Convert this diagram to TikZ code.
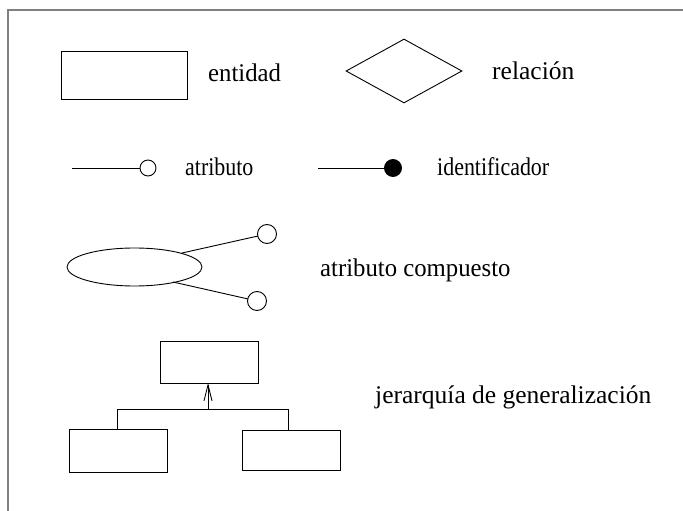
\documentclass[tikz,border=0pt]{standalone}
\usepackage{fontspec}
\setmainfont{Liberation Serif}
\usetikzlibrary{shapes.geometric,arrows.meta}
\begin{document}
\begin{tikzpicture}[x=1pt,y=-1pt,
  box/.style={draw,line width=0.9pt,minimum width=#1,inner sep=0pt,outer sep=0pt},
  lbl/.style={anchor=west,inner sep=0pt,font=\fontsize{25.5}{30}\selectfont},
  attr/.style={draw,circle,line width=0.9pt,minimum size=16pt,inner sep=0pt,outer sep=0pt},
  ln/.style={line width=0.9pt}]
\useasboundingbox (0,0) rectangle (683,511);
\draw[gray,line width=1.5pt] (683,10) -- (8,10) -- (8,511);
% entidad
\node[box=126pt,minimum height=48pt] (ent) at (124,75) {};
\node[lbl] (tent) at (208,73) {\scalebox{0.97}[1]{entidad}};
% relacion
\node[draw,diamond,line width=0.9pt,minimum width=116pt,minimum height=64pt,inner sep=0pt,aspect=1.8] (rel) at (404,71) {};
\node[lbl] (trel) at (492,71) {relación};
% atributo
\coordinate (a0) at (72,168);
\node[attr] (a1) at (148,168) {};
\draw[ln] (a0) -- (a1);
\node[lbl] (tatr) at (185,167) {\scalebox{0.86}[1]{atributo}};
\coordinate (i0) at (318,168);
\node[attr,fill=black,minimum size=17pt] (i1) at (393,168) {};
\draw[ln] (i0) -- (i1);
\node[lbl] (tid) at (437,167) {\scalebox{0.86}[1]{identificador}};
% compuesto
\node[draw,ellipse,line width=0.9pt,minimum width=135pt,minimum height=38pt,inner sep=0pt] (ell) at (134.5,267) {};
\node[attr,minimum size=19pt] (c1) at (267,234) {};
\node[attr,minimum size=19pt] (c2) at (257,301) {};
\coordinate (e1) at (182,253);
\coordinate (e2) at (173,282);
\draw[ln] (e1) -- (c1);
\draw[ln] (e2) -- (c2);
\node[lbl] (tcomp) at (320,270) {\scalebox{0.97}[1]{atributo compuesto}};
% jerarquia
\node[box=98pt,minimum height=42pt] (sup) at (209,362) {};
\node[box=98pt,minimum height=43pt] (subl) at (118,450.5) {};
\node[box=98pt,minimum height=40pt] (subr) at (291,450) {};
\coordinate (j) at (208,409);
\coordinate (jl) at (117,409);
\coordinate (jr) at (288,409);
\draw[ln] (subl.north -| jl) -- (jl) -- (jr) -- (subr.north -| jr);
\draw[ln,-{Straight Barb[length=16pt,width=8pt]}] (j) -- (j |- sup.south);
\node[lbl] (tjer) at (375,397) {jerarquía de generalización};
\end{tikzpicture}
\end{document}
